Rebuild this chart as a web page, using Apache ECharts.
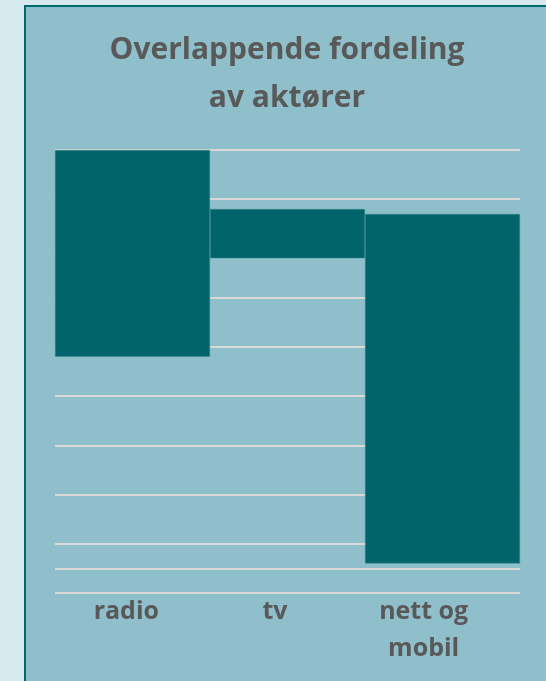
<!DOCTYPE html>
<html>
<head>
    <meta charset="utf-8">
    <title>Overlappende fordeling av aktører</title>
    <script src="https://cdn.jsdelivr.net/npm/echarts@6/dist/echarts.min.js"></script>
    <style>
        html, body {
            margin: 0;
            padding: 0;
            background: #d6e9ec;
            overflow: hidden;
        }

        #panel {
            position: absolute;
            left: 24px;
            top: 5px;
            width: 540px;
            height: 700px;
            background: #8fbfca;
            border-left: 2px solid #00696e;
            border-top: 2px solid #00696e;
        }

        #container {
            position: absolute;
            left: 0;
            top: 0;
            width: 546px;
            height: 681px;
        }
    </style>
</head>
<body>
<div id="panel"></div>
<div id="container"></div>
<script>
    // kategorier og verdier (start / lengde for hver flytende søyle)
    var categories = ['radio', 'tv', 'nett og\nmobil'];
    var barStart = [48, 68, 6];
    var barLength = [42, 10, 71];
    // kategoriaksen krysser verdiaksen her
    var axisCross = 5;

    var chart = echarts.init(document.getElementById('container'));

    var labelStyle = {
        fontFamily: 'Open Sans',
        fontWeight: 'bold',
        fontSize: 25,
        lineHeight: 37,
        color: '#595959'
    };

    var option = {
        backgroundColor: 'transparent',
        animation: false,
        title: {
            text: 'Overlappende fordeling\nav aktører',
            left: 282,
            textAlign: 'center',
            top: 21,
            textStyle: {
                fontFamily: 'Open Sans',
                fontWeight: 'bold',
                fontSize: 30,
                lineHeight: 48,
                color: '#595959'
            }
        },
        grid: [{
            left: 55,
            right: 26,
            top: 150,
            bottom: 88
        }, {
            // kategorietikettene står litt til venstre for søylene
            left: 52,
            right: 48,
            top: 150,
            bottom: 88
        }],
        xAxis: [{
            type: 'category',
            data: categories,
            axisLine: {show: false},
            axisTick: {show: false},
            axisLabel: {show: false}
        }, {
            type: 'category',
            gridIndex: 1,
            data: categories,
            axisLine: {show: false},
            axisTick: {show: false},
            axisLabel: Object.assign({margin: 0}, labelStyle)
        }],
        yAxis: [{
            type: 'value',
            min: 0,
            max: 90,
            interval: 10,
            axisLine: {show: false},
            axisTick: {show: false},
            axisLabel: {show: false},
            splitLine: {lineStyle: {color: '#d9d9d9', width: 2}}
        }, {
            type: 'value',
            gridIndex: 1,
            show: false,
            splitLine: {show: false}
        }],
        series: [{
            type: 'bar',
            stack: 'a',
            data: barStart,
            barCategoryGap: 0,
            itemStyle: {color: 'transparent'},
            silent: true,
            markLine: {
                silent: true,
                symbol: 'none',
                label: {show: false},
                lineStyle: {color: '#d9d9d9', width: 2, type: 'solid'},
                data: [{yAxis: axisCross}]
            }
        }, {
            type: 'bar',
            stack: 'a',
            data: barLength,
            barCategoryGap: 0,
            itemStyle: {color: '#00646a', borderColor: '#3f8a8f', borderWidth: 0.5}
        }]
    };

    chart.setOption(option);
</script>
</body>
</html>
